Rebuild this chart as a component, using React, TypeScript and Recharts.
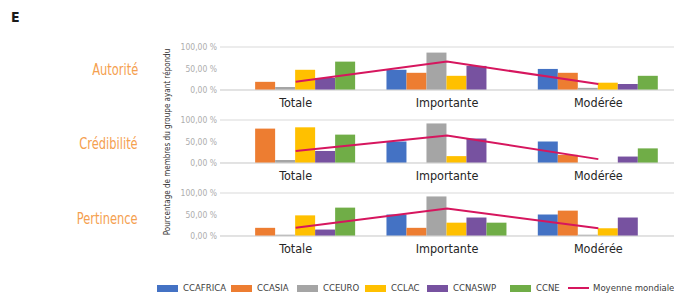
import { ComposedChart, Bar, Line, XAxis, YAxis, CartesianGrid } from "recharts";

const categories = ["Totale", "Importante", "Modérée"];
const seriesNames = ["CCAFRICA", "CCASIA", "CCEURO", "CCLAC", "CCNASWP", "CCNE"];
const seriesColors = ["#4472c4", "#ed7d31", "#a5a5a5", "#ffc000", "#7752a0", "#70ad47"];
const lineName = "Moyenne mondiale";
const lineColor = "#d6165e";
const yTicks = [0, 50, 100];

// one row per series (same order as seriesNames), one value per category
const autoriteValues = [
  [0, 47, 49],
  [19, 40, 40],
  [7, 87, 5],
  [47, 33, 17],
  [28, 56, 14],
  [66, 0, 33],
];
const autoriteMoyenne = [19, 66, 14];

const credibiliteValues = [
  [0, 50, 50],
  [80, 0, 19],
  [7, 92, 0],
  [83, 16, 0],
  [28, 57, 15],
  [66, 0, 34],
];
const credibiliteMoyenne = [28, 64, 9];

const pertinenceValues = [
  [0, 50, 50],
  [19, 19, 59],
  [3, 92, 3],
  [48, 31, 18],
  [15, 43, 43],
  [66, 31, 0],
];
const pertinenceMoyenne = [19, 64, 18];

const FONT = "'DejaVu Sans Condensed', 'Liberation Sans Narrow', sans-serif";

const panels = [
  { label: "Autorité", values: autoriteValues, moyenne: autoriteMoyenne, top: 40, labelY: 70 },
  { label: "Crédibilité", values: credibiliteValues, moyenne: credibiliteMoyenne, top: 113, labelY: 144 },
  { label: "Pertinence", values: pertinenceValues, moyenne: pertinenceMoyenne, top: 186, labelY: 219 },
];

// legend swatch x positions (layout only)
const legendX = [157, 231, 297, 365, 427, 510, 568];

function buildRows(values: number[][], moyenne: number[]) {
  return categories.map((cat, i) => {
    const row: Record<string, string | number> = { cat, moyenne: moyenne[i] };
    seriesNames.forEach((s, j) => {
      row[s] = values[j][i];
    });
    return row;
  });
}

function fmtPct(v: number) {
  return v.toFixed(2).replace(".", ",") + " %";
}

function Panel({ values, moyenne }: { values: number[][]; moyenne: number[] }) {
  const data = buildRows(values, moyenne);
  return (
    <ComposedChart
      width={524}
      height={75}
      data={data}
      margin={{ top: 7, right: 0, bottom: 0, left: 0 }}
      barCategoryGap="10%"
      barGap={0}
    >
      <CartesianGrid vertical={false} stroke="#d9d9d9" />
      <XAxis
        dataKey="cat"
        height={25}
        tickLine={false}
        axisLine={{ stroke: "#d9d9d9" }}
        tick={{ fontSize: 12.5, fill: "#262626", fontFamily: FONT }}
        interval={0}
      />
      <YAxis
        width={70}
        domain={[0, 100]}
        ticks={yTicks}
        tickFormatter={fmtPct}
        tickLine={false}
        axisLine={false}
        tickSize={0}
        tickMargin={3}
        tick={{ fontSize: 8.5, fill: "#adadad", fontFamily: FONT }}
      />
      {seriesNames.map((s, j) => (
        <Bar key={s} dataKey={s} fill={seriesColors[j]} isAnimationActive={false} />
      ))}
      <Line
        type="linear"
        dataKey="moyenne"
        stroke={lineColor}
        strokeWidth={2}
        dot={false}
        isAnimationActive={false}
      />
    </ComposedChart>
  );
}

export default function App() {
  return (
    <div
      style={{
        position: "absolute",
        left: 0,
        top: 0,
        width: 674,
        height: 297,
        background: "#fff",
        fontFamily: FONT,
        overflow: "hidden",
      }}
    >
      <div style={{ position: "absolute", left: 11, top: 9, fontSize: 14, fontWeight: "bold", color: "#1a1a1a" }}>
        E
      </div>

      <div
        style={{
          position: "absolute",
          left: 167,
          top: 142,
          transform: "translate(-50%, -50%) rotate(-90deg)",
          whiteSpace: "nowrap",
          fontSize: 8,
          color: "#333",
        }}
      >
        Pourcentage de membres du groupe ayant répondu
      </div>

      {panels.map((p) => (
        <div key={p.label}>
          <div
            style={{
              position: "absolute",
              right: 674 - 138,
              top: p.labelY - 11,
              lineHeight: "22px",
              fontSize: 15,
              color: "#f5a04f",
              whiteSpace: "nowrap",
              transform: "scaleX(0.85)",
              transformOrigin: "right center",
            }}
          >
            {p.label}
          </div>
          <div style={{ position: "absolute", left: 150, top: p.top }}>
            <Panel values={p.values} moyenne={p.moyenne} />
          </div>
        </div>
      ))}

      {seriesNames.map((s, j) => (
        <div
          key={s}
          style={{ position: "absolute", left: legendX[j], top: 281, display: "flex", alignItems: "center", whiteSpace: "nowrap" }}
        >
          <span style={{ display: "inline-block", width: 21, height: 7, background: seriesColors[j], marginRight: 5 }} />
          <span style={{ fontSize: 9.5, color: "#404040", lineHeight: "14px" }}>{s}</span>
        </div>
      ))}
      <div
        style={{ position: "absolute", left: legendX[6], top: 281, display: "flex", alignItems: "center", whiteSpace: "nowrap" }}
      >
        <span style={{ display: "inline-block", width: 21, height: 2, background: lineColor, marginRight: 4 }} />
        <span style={{ fontSize: 9.5, color: "#404040", lineHeight: "14px" }}>{lineName}</span>
      </div>
    </div>
  );
}
